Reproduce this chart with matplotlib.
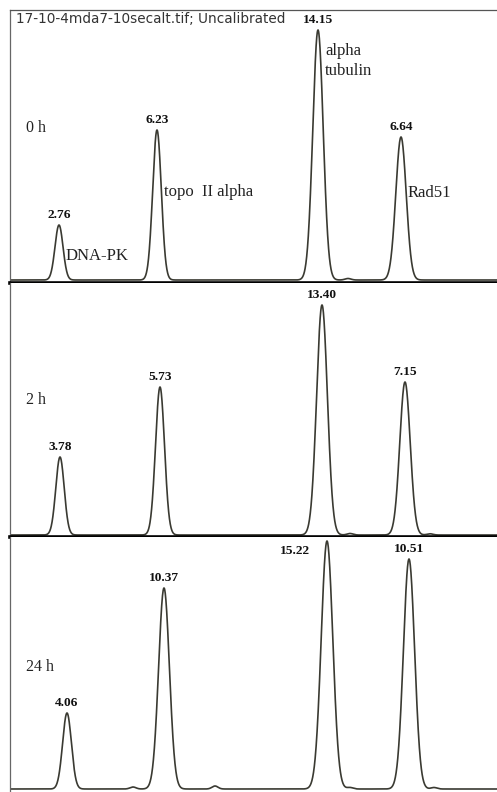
import numpy as np
import matplotlib
matplotlib.use('Agg')
import matplotlib.pyplot as plt

# lane profile peaks, x = migration distance (px), height = intensity (arb.)
bands = ['DNA-PK', 'topo  II alpha', 'alpha\ntubulin', 'Rad51']
times = ['0 h', '2 h', '24 h']

pos_0h = [59, 157, 318, 401]
pos_2h = [60, 160, 322, 405]
pos_24h = [67, 164, 327, 409]

height_0h = [55, 150, 250, 143]
height_2h = [78, 148, 230, 153]
height_24h = [76, 201, 248, 230]

sigma_0h = [4.0, 4.3, 5.2, 5.2]
sigma_2h = [4.2, 4.5, 5.4, 5.2]
sigma_24h = [4.4, 5.4, 5.8, 5.6]

values_0h = ['2.76', '6.23', '14.15', '6.64']
values_2h = ['3.78', '5.73', '13.40', '7.15']
values_24h = ['4.06', '10.37', '15.22', '10.51']

# small background bumps (position, height)
bumps_0h = [(348, 1.5)]
bumps_2h = [(350, 1.5), (430, 1.2)]
bumps_24h = [(133, 2.0), (215, 3.0), (350, 1.5), (434, 1.5)]

title = '17-10-4mda7-10secalt.tif; Uncalibrated'

W, H = 497, 792
fig = plt.figure(figsize=(W / 100, H / 100), dpi=100)

LEFT = 10
# (top px, bottom px, baseline px)
panel_px = [(10, 283, 280), (283, 537, 535), (537, 792, 789)]
time_y = [152, 135, 122]

line_col = '#3a3a32'
serif = 'Liberation Serif'


def trace(x, pos, hgt, sig, bumps):
    y = np.zeros_like(x)
    for p, h, s in zip(pos, hgt, sig):
        y += h * np.exp(-0.5 * ((x - p) / s) ** 2)
    for p, h in bumps:
        y += h * np.exp(-0.5 * ((x - p) / 3.0) ** 2)
    return y


x = np.linspace(LEFT, W, 3000)
data = [(pos_0h, height_0h, sigma_0h, values_0h, bumps_0h),
        (pos_2h, height_2h, sigma_2h, values_2h, bumps_2h),
        (pos_24h, height_24h, sigma_24h, values_24h, bumps_24h)]

axes = []
for i, (top, bot, base) in enumerate(panel_px):
    ax = fig.add_axes([LEFT / W, 1 - bot / H, 1 - LEFT / W, (bot - top) / H])
    pos, hgt, sig, vals, bumps = data[i]
    ax.plot(x, trace(x, pos, hgt, sig, bumps), color=line_col, lw=1.2)
    ax.set_xlim(LEFT, W)
    ax.set_ylim(-(bot - base), base - top)
    ax.set_xticks([])
    ax.set_yticks([])
    for s in ['right', 'top', 'bottom']:
        ax.spines[s].set_visible(False)
    ax.spines['left'].set_color('#666666')
    ax.spines['left'].set_linewidth(0.9)
    if i < 2:
        ax.spines['bottom'].set_visible(True)
        ax.spines['bottom'].set_color('black')
        ax.spines['bottom'].set_linewidth(2.6)
    for j, (p, h, v) in enumerate(zip(pos, hgt, vals)):
        off = (0, 4)
        if i == 2 and j == 2:
            off = (-32, -16)
        ax.annotate(v, (p, h), xytext=off, textcoords='offset pixels',
                    ha='center', va='bottom', fontsize=9.6,
                    fontweight='bold', family=serif, color='#111111')
    ax.text(26, time_y[i], times[i], fontsize=11.5, family=serif,
            ha='left', va='center', color='#222222')
    axes.append(ax)

ax0 = axes[0]
ax0.spines['top'].set_visible(True)
ax0.spines['top'].set_color('#555555')
ax0.spines['top'].set_linewidth(0.9)
ax0.text(16, 261, title, fontsize=9.8, family='DejaVu Sans', ha='left',
         va='center', color='#333333')

# band names, next to the right flank of each 0 h peak
name_y = [24, 88, 219, 87]
for p, name, ny in zip(pos_0h, bands, name_y):
    ax0.text(p + 7, ny, name, fontsize=12, family=serif, ha='left',
             va='center', color='#222222', linespacing=1.35)

fig.savefig('out.png', dpi=100)
